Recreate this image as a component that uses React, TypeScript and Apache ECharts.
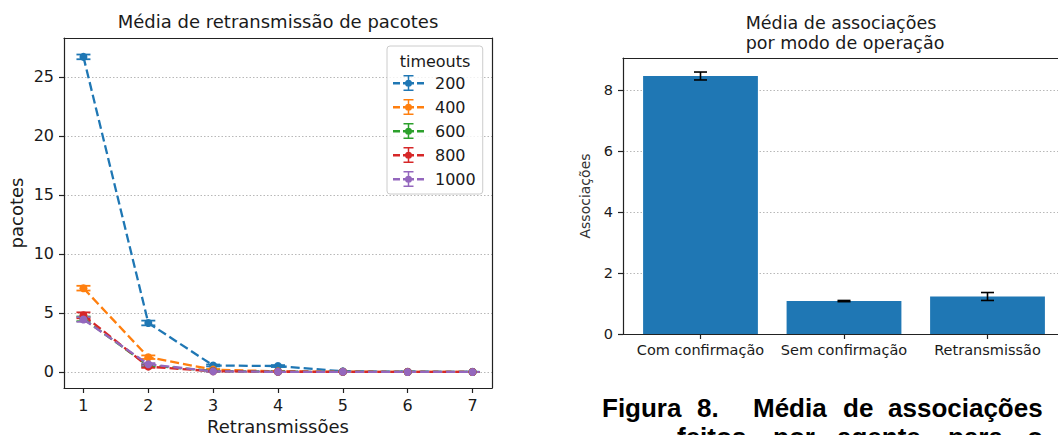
import React, { useEffect, useRef } from 'react';
import * as echarts from 'echarts';

// ---- Left chart data ----
const retransmissions = [1, 2, 3, 4, 5, 6, 7];
const timeouts = ['200', '400', '600', '800', '1000'];
const mean200 = [26.7, 4.15, 0.55, 0.5, 0.05, 0.02, 0.01];
const err200 = [0.2, 0.2, 0.08, 0.08, 0.02, 0.01, 0.01];
const mean400 = [7.1, 1.25, 0.2, 0.05, 0.02, 0.01, 0.0];
const err400 = [0.2, 0.15, 0.05, 0.02, 0.01, 0.01, 0.0];
const mean600 = [4.5, 0.55, 0.08, 0.02, 0.01, 0.0, 0.0];
const err600 = [0.2, 0.1, 0.03, 0.01, 0.01, 0.0, 0.0];
const mean800 = [4.8, 0.45, 0.06, 0.02, 0.01, 0.0, 0.0];
const err800 = [0.25, 0.1, 0.03, 0.01, 0.0, 0.0, 0.0];
const mean1000 = [4.45, 0.65, 0.05, 0.01, 0.01, 0.0, 0.0];
const err1000 = [0.2, 0.1, 0.03, 0.01, 0.0, 0.0, 0.0];
const yTicksLeft = [0, 5, 10, 15, 20, 25];

// ---- Right chart data ----
const modes = ['Com confirmação', 'Sem confirmação', 'Retransmissão'];
const modePositions = [0, 1, 2];
const assocMeans = [8.46, 1.08, 1.23];
const assocErr = [0.13, 0.02, 0.13];
const yTicksRight = [0, 2, 4, 6, 8];

// ---- Caption words ----
const captionLine1 = ['Figura', '8.', 'Média', 'de', 'associações'];
const captionLine2 = ['feitos', 'por', 'agente,', 'para', 'o'];

const means = [mean200, mean400, mean600, mean800, mean1000];
const errs = [err200, err400, err600, err800, err1000];
const colors = ['#1f77b4', '#ff7f0e', '#2ca02c', '#d62728', '#9467bd'];

const FONT = "'DejaVu Sans', sans-serif";
const CAPFONT = "'Liberation Sans', Arial, sans-serif";
const TXT = '#1a1a1a';
const SPINE = '#222';

const LEGEND_ICON =
  'path://M0 7H7V9.5H0Z M10 7H14V9.5H10Z M17 7H21V9.5H17Z M24 7H31V9.5H24Z ' +
  'M14.75 0H16.25V16H14.75Z M10.5 0H20.5V1.5H10.5Z M10.5 14.5H20.5V16H10.5Z ' +
  'M19 8.25A3.5 3.5 0 1 1 12 8.25A3.5 3.5 0 1 1 19 8.25Z';

function errRender(color: string, hw: number, lw: number) {
  return (params: any, api: any) => {
    const x = api.value(0);
    const y = api.value(1);
    const e = api.value(2);
    const top = api.coord([x, y + e]);
    const bot = api.coord([x, y - e]);
    const st = { stroke: color, lineWidth: lw };
    return {
      type: 'group',
      children: [
        { type: 'line', shape: { x1: top[0], y1: top[1], x2: bot[0], y2: bot[1] }, style: st },
        { type: 'line', shape: { x1: top[0] - hw, y1: top[1], x2: top[0] + hw, y2: top[1] }, style: st },
        { type: 'line', shape: { x1: bot[0] - hw, y1: bot[1], x2: bot[0] + hw, y2: bot[1] }, style: st },
      ],
    };
  };
}

export default function App() {
  const ref = useRef<HTMLDivElement>(null);
  useEffect(() => {
    if (!ref.current) return;
    const chart = echarts.init(ref.current, undefined, { renderer: 'svg' });

    const leftSeries: any[] = [];
    timeouts.forEach((t, i) => {
      leftSeries.push({
        type: 'custom',
        name: t + '-err',
        xAxisIndex: 0,
        yAxisIndex: 0,
        renderItem: errRender(colors[i], 7, 1.8),
        encode: { x: 0, y: 1 },
        itemStyle: { color: colors[i] },
        data: retransmissions.map((r, k) => [r, means[i][k], errs[i][k]]),
        z: 2,
      });
      leftSeries.push({
        type: 'line',
        name: t,
        xAxisIndex: 0,
        yAxisIndex: 0,
        data: retransmissions.map((r, k) => [r, means[i][k]]),
        symbol: 'circle',
        symbolSize: 8,
        showSymbol: true,
        lineStyle: { color: colors[i], width: 2.3, type: [9, 4] },
        itemStyle: { color: colors[i], borderWidth: 0 },
        z: 2,
      });
    });

    const dotted = { show: true, lineStyle: { color: '#b8b8b8', width: 1, type: [1.5, 2] } };
    const capX1 = [602, 697, 753, 843, 888];
    const capX2 = [677, 773, 837, 948, 1027];

    const option: any = {
      animation: false,
      backgroundColor: '#ffffff',
      textStyle: { fontFamily: FONT },
      grid: [
        { left: 64, top: 38, width: 428, height: 350, outerBoundsMode: 'none', containLabel: false },
        { left: 623, top: 58, right: -7, bottom: 101, outerBoundsMode: 'none', containLabel: false },
      ],
      xAxis: [
        {
          type: 'value', gridIndex: 0, min: 0.7, max: 7.3,
          axisLine: { show: true, onZero: false, lineStyle: { color: SPINE, width: 1.2 } },
          axisTick: { show: true, customValues: retransmissions, length: 5, lineStyle: { color: SPINE, width: 1.2 } },
          axisLabel: { customValues: retransmissions, fontSize: 16, margin: 9, color: TXT, fontFamily: FONT },
          splitLine: { show: false },
          name: 'Retransmissões', nameLocation: 'middle', nameGap: 27,
          nameTextStyle: { fontSize: 18, color: TXT, fontFamily: FONT, verticalAlign: 'top' },
        },
        {
          type: 'value', gridIndex: 0, min: 0.7, max: 7.3, position: 'top',
          axisLine: { show: true, onZero: false, lineStyle: { color: SPINE, width: 1.2 } },
          axisTick: { show: false }, axisLabel: { show: false }, splitLine: { show: false },
        },
        {
          type: 'value', gridIndex: 1, min: -0.54, max: 2.54,
          axisLine: { show: true, onZero: false, lineStyle: { color: SPINE, width: 1.2 } },
          axisTick: { show: true, customValues: modePositions, length: 5, lineStyle: { color: SPINE, width: 1.2 } },
          axisLabel: {
            customValues: modePositions, fontSize: 14.5, margin: 8, color: TXT, fontFamily: FONT,
            formatter: (v: number) => modes[Math.round(v)] ?? '',
          },
          splitLine: { show: false },
        },
        {
          type: 'value', gridIndex: 1, min: -0.54, max: 2.54, position: 'top',
          axisLine: { show: true, onZero: false, lineStyle: { color: SPINE, width: 1.2 } },
          axisTick: { show: false }, axisLabel: { show: false }, splitLine: { show: false },
        },
      ],
      yAxis: [
        {
          type: 'value', gridIndex: 0, min: -1.36, max: 28.3,
          axisLine: { show: true, onZero: false, lineStyle: { color: SPINE, width: 1.2 } },
          axisTick: { show: true, customValues: yTicksLeft, length: 5, lineStyle: { color: SPINE, width: 1.2 } },
          axisLabel: { customValues: yTicksLeft, fontSize: 16, margin: 10, color: TXT, fontFamily: FONT },
          splitLine: dotted,
          name: 'pacotes', nameLocation: 'middle', nameGap: 39,
          nameTextStyle: { fontSize: 18, color: TXT, fontFamily: FONT },
        },
        {
          type: 'value', gridIndex: 0, min: -1.36, max: 28.3, position: 'right',
          axisLine: { show: true, onZero: false, lineStyle: { color: SPINE, width: 1.2 } },
          axisTick: { show: false }, axisLabel: { show: false }, splitLine: { show: false },
        },
        {
          type: 'value', gridIndex: 1, min: 0, max: 9.05,
          axisLine: { show: true, onZero: false, lineStyle: { color: SPINE, width: 1.2 } },
          axisTick: { show: true, customValues: yTicksRight, length: 5, lineStyle: { color: SPINE, width: 1.2 } },
          axisLabel: { customValues: yTicksRight, fontSize: 14.5, margin: 10, color: TXT, fontFamily: FONT },
          splitLine: dotted,
          name: 'Associações', nameLocation: 'middle', nameGap: 31,
          nameTextStyle: { fontSize: 14, color: '#333', fontFamily: FONT },
        },
      ],
      legend: {
        orient: 'vertical', left: 387, top: 46,
        padding: [29, 7, 7, 6],
        itemWidth: 31, itemHeight: 16, itemGap: 8,
        backgroundColor: 'rgba(255,255,255,0.8)',
        borderColor: '#cccccc', borderWidth: 1, borderRadius: 3,
        textStyle: { fontSize: 16, color: TXT, fontFamily: FONT, padding: [0, 0, 0, 6] },
        itemStyle: { borderWidth: 0 },
        data: timeouts.map((t) => ({ name: t, icon: LEGEND_ICON })),
      },
      graphic: [
        {
          type: 'text', z: 100, x: 278, y: 21,
          style: { text: 'Média de retransmissão de pacotes', fontSize: 18, fontFamily: FONT, fill: TXT, align: 'center', verticalAlign: 'middle' },
        },
        {
          type: 'text', z: 100, x: 435, y: 61,
          style: { text: 'timeouts', fontSize: 16, fontFamily: FONT, fill: TXT, align: 'center', verticalAlign: 'middle' },
        },
        {
          type: 'text', z: 100, x: 841, y: 23,
          style: { text: 'Média de associações', fontSize: 17.5, fontFamily: FONT, fill: TXT, align: 'center', verticalAlign: 'middle' },
        },
        {
          type: 'text', z: 100, x: 845, y: 43,
          style: { text: 'por modo de operação', fontSize: 17.5, fontFamily: FONT, fill: TXT, align: 'center', verticalAlign: 'middle' },
        },
        ...captionLine1.map((w, i) => ({
          type: 'text', z: 100, x: capX1[i], y: 408,
          style: { text: w, fontSize: 26, fontWeight: 'bold', fontFamily: CAPFONT, fill: '#000', align: 'left', verticalAlign: 'middle' },
        })),
        ...captionLine2.map((w, i) => ({
          type: 'text', z: 100, x: capX2[i], y: 437,
          style: { text: w, fontSize: 26, fontWeight: 'bold', fontFamily: CAPFONT, fill: '#000', align: 'left', verticalAlign: 'middle' },
        })),
      ],
      series: [
        ...leftSeries,
        {
          type: 'bar', name: 'assoc', xAxisIndex: 2, yAxisIndex: 2,
          data: modePositions.map((p, i) => [p, assocMeans[i]]),
          barWidth: '80%',
          itemStyle: { color: '#1f77b4' },
          z: 2,
        },
        {
          type: 'custom', name: 'assoc-err', xAxisIndex: 2, yAxisIndex: 2,
          renderItem: errRender('#000000', 6.5, 1.6),
          encode: { x: 0, y: 1 },
          itemStyle: { color: '#000' },
          data: modePositions.map((p, i) => [p, assocMeans[i], assocErr[i]]),
          z: 3,
        },
      ],
    };
    chart.setOption(option);
    return () => chart.dispose();
  }, []);
  return (
    <div
      ref={ref}
      style={{ position: 'absolute', left: 0, top: 0, width: 1058, height: 435, background: '#fff' }}
    />
  );
}
